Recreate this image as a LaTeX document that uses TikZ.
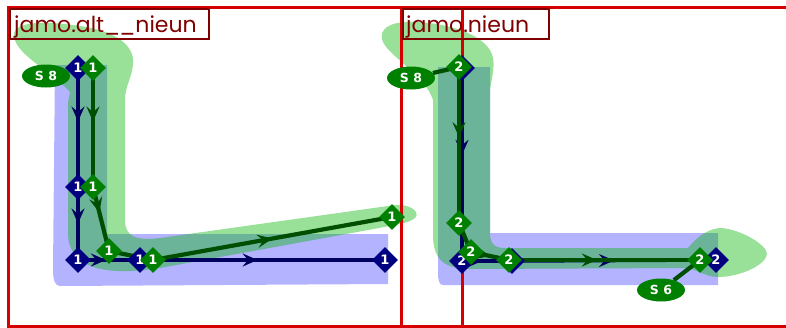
\documentclass[tikz,border=0pt]{standalone}
\usepackage{fontspec}
\setmainfont{DejaVu Sans}
\newfontfamily\titlefont{Poppins}
\usetikzlibrary{shapes.geometric,arrows.meta,decorations.markings}
\definecolor{framered}{RGB}{215,0,0}
\definecolor{labelred}{RGB}{128,0,0}
\definecolor{bluefill}{RGB}{179,179,255}
\definecolor{greenfill}{RGB}{0,180,0}
\definecolor{navyd}{RGB}{0,0,128}
\definecolor{greend}{RGB}{0,128,0}
\definecolor{navyline}{RGB}{0,0,95}
\definecolor{greenline}{RGB}{0,78,0}
\pgfdeclarelayer{fills}
\pgfdeclarelayer{lines}
\pgfsetlayers{fills,lines,main}
\tikzset{
  bd/.style={diamond, fill=navyd, text=white, inner sep=0pt, minimum width=26pt, minimum height=26pt, font=\fontsize{13}{13}\selectfont\bfseries},
  gd/.style={bd, fill=greend},
  lbl/.style={ellipse, fill=greend, text=white, inner sep=0pt, minimum width=48pt, minimum height=23pt, font=\fontsize{12.5}{12.5}\selectfont\bfseries},
  titlebox/.style={draw=labelred, line width=2.2pt, minimum height=30pt, inner sep=0pt},
  titletext/.style={text=labelred, font=\fontsize{22}{22}\selectfont\titlefont, inner sep=0pt, anchor=base west},
  frameline/.style={draw=framered, line width=3pt},
  nline/.style={draw=navyline, line width=3.5pt},
  gline/.style={draw=greenline, line width=4.2pt},
  midarrow/.style={postaction={decorate}, decoration={markings, mark=at position #1 with {\arrow{Stealth[length=15pt,width=13pt,inset=5.5pt]}}}},
}
\begin{document}
\begin{tikzpicture}[x=1pt,y=-1pt]
\useasboundingbox (0,0) rectangle (786,327);
\begin{pgfonlayer}{fills}
\fill[bluefill] (55,65) -- (107,65) -- (107,234) -- (388,234) -- (388,284) -- (60,286)
  .. controls (55,286) and (53,280) .. (53,270) -- cycle;
\fill[greenfill, fill opacity=0.4] (70,92)
  .. controls (50,70) and (16,55) .. (14,36)
  .. controls (13,22) and (40,20) .. (80,26)
  .. controls (115,31) and (135,45) .. (133,64)
  .. controls (132,78) and (125,86) .. (125,100)
  -- (125,220)
  .. controls (125,236) and (135,241) .. (160,238)
  -- (395,205)
  .. controls (410,204) and (419,211) .. (416,217)
  .. controls (412,222) and (400,224) .. (390,226)
  -- (160,268)
  .. controls (120,274) and (90,272) .. (76,256)
  .. controls (68,246) and (68,240) .. (68,225)
  -- (68,105) .. controls (68,98) and (70,95) .. (70,92) -- cycle;
\fill[bluefill] (438,67) -- (490,67) -- (490,233) -- (718,233) -- (718,285) -- (443,285)
  .. controls (439,285) and (438,280) .. (438,272) -- cycle;
\fill[greenfill, fill opacity=0.4] (433,100)
  .. controls (425,75) and (390,57) .. (383,42)
  .. controls (377,28) and (392,20) .. (420,22)
  .. controls (455,25) and (480,35) .. (490,50)
  .. controls (497,62) and (492,75) .. (490,90)
  -- (490,233)
  .. controls (490,244) and (495,248) .. (505,248)
  -- (688,248)
  .. controls (700,233) and (712,228) .. (722,228)
  .. controls (742,230) and (767,245) .. (767,254)
  .. controls (766,265) and (740,277) .. (718,277)
  .. controls (705,277) and (695,268) .. (685,268)
  -- (470,269)
  .. controls (445,269) and (433,260) .. (433,235)
  -- cycle;
\draw[frameline] (8,7) rectangle (401,326);
\draw[frameline] (401,7) -- (786,7);
\draw[frameline] (401,326) -- (786,326);
\draw[frameline] (462,7) -- (462,326);
\end{pgfonlayer}
% ---- titles
\node[titlebox, minimum width=199pt] (t1) at (109.5,24) {};
\node[titletext] (t1t) at (14,32) {jamo.alt\_\kern-1pt\_nieun};
\node[titlebox, minimum width=146pt] (t2) at (476,24) {};
\node[titletext] (t2t) at (406,32) {jamo.nieun};
% ---- left glyph nodes
\node[bd] (la) at (78,68) {1};
\node[bd] (lb) at (78,187) {1};
\node[bd] (lc) at (78,260) {1};
\node[bd] (ld) at (140,260) {1};
\node[bd] (le) at (385,260) {1};
\node[gd] (ga) at (93,68) {1};
\node[gd] (gb) at (93,187) {1};
\node[gd] (gc) at (109,251) {1};
\node[gd] (gdd) at (153,260) {1};
\node[gd] (ge) at (392,217) {1};
% ---- right glyph nodes
\node[bd] (ra) at (462,68) {2};
\node[bd] (rb) at (462,261) {2};
\node[bd] (rc) at (512,261) {2};
\node[bd] (rd) at (716,260) {2};
\node[gd] (sa) at (459,67) {2};
\node[gd] (sb) at (459,223) {2};
\node[gd] (sc) at (471,252) {2};
\node[gd] (sd) at (509,260) {2};
\node[gd] (se) at (700,260) {2};
\node[lbl] (s8l) at (46,76) {S 8};
\node[lbl] (s8r) at (411,78) {S 8};
\node[lbl] (s6) at (661,290) {S 6};
% ---- lines
\begin{pgfonlayer}{lines}
\draw[nline, midarrow=0.45] (la.center) -- (lb.center);
\draw[nline, midarrow=0.5] (lb.center) -- (lc.center);
\draw[nline, midarrow=0.45] (lc.center) -- (ld.center);
\draw[nline, midarrow=0.48] (ld.center) -- (le.center);
\draw[gline, midarrow=0.45] (ga.center) -- (gb.center);
\draw[gline, midarrow=0.4] (gb.center) -- (gc.center);
\draw[gline] (gc.center) -- (gdd.center);
\draw[gline, midarrow=0.5] (gdd.center) -- (ge.center);
\draw[nline, midarrow=0.45] (ra.center) -- (rb.center);
\draw[nline, midarrow=0.4] (rb.center) -- (rc.center);
\draw[nline, midarrow=0.5] (rc.center) -- (rd.center);
\draw[gline, midarrow=0.45] (sa.center) -- (sb.center);
\draw[gline] (sb.center) -- (sc.center);
\draw[gline, midarrow=0.5] (sc.center) -- (sd.center);
\draw[gline, midarrow=0.46] (sd.center) -- (se.center);
\draw[gline] (s8r) -- (sa.center);
\draw[gline] (s6) -- (se.center);
\end{pgfonlayer}
\end{tikzpicture}
\end{document}
